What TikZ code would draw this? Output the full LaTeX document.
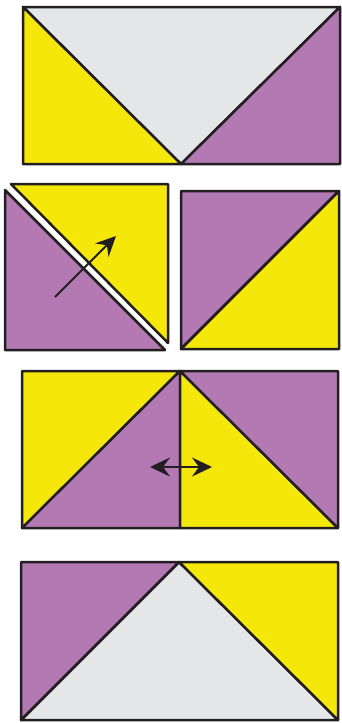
\documentclass[tikz,border=0pt]{standalone}
\usepackage{xcolor}
\usetikzlibrary{arrows.meta}
\definecolor{quiltGelb}{HTML}{F6E70A}
\definecolor{quiltLila}{HTML}{B279B3}
\definecolor{quiltGrau}{HTML}{E5E6E8}
\definecolor{quiltLinie}{HTML}{231F20}

\begin{document}
\begin{tikzpicture}[
  x=1pt, y=-1pt,
  patch/.style={draw=quiltLinie, line width=2.5pt, line join=round},
  gelb/.style={patch, fill=quiltGelb},
  lila/.style={patch, fill=quiltLila},
  grau/.style={patch, fill=quiltGrau},
  tip/.tip={Stealth[length=20pt, width=19pt, inset=7pt]},
  arrow/.style={-tip, draw=quiltLinie, line width=2pt},
  dblarrow/.style={tip-tip, draw=quiltLinie, line width=2pt},
]
\useasboundingbox (0,0) rectangle (341,723);

% --- Row 1: flying goose, grey on top --------------------------------
\draw[grau] (23,7) -- (340,7) -- (181,164) -- cycle;
\draw[gelb] (23,7) -- (181,164) -- (23,164) -- cycle;
\draw[lila] (340,7) -- (340,164) -- (181,164) -- cycle;

% --- Row 2: half-square triangles, cut apart and flipped ------------
\draw[gelb] (11,184) -- (168,184) -- (168,343) -- cycle;
\draw[lila] (5,190) -- (165,350) -- (5,350) -- cycle;
\coordinate (shiftA) at (55,297);
\coordinate (shiftB) at (116,236);
\draw[arrow] (shiftA) -- (shiftB);

\draw[lila] (181,191) -- (339,191) -- (181,349) -- cycle;
\draw[gelb] (339,191) -- (339,349) -- (181,349) -- cycle;

% --- Row 3: two squares side by side ---------------------------------
\draw[gelb] (22,371) -- (180,371) -- (22,528) -- cycle;
\draw[lila] (180,371) -- (180,528) -- (22,528) -- cycle;
\draw[gelb] (180,371) -- (338,528) -- (180,528) -- cycle;
\draw[lila] (180,371) -- (338,371) -- (338,528) -- cycle;
\coordinate (swapL) at (150,467);
\coordinate (swapR) at (212,467);
\draw[dblarrow] (swapL) -- (swapR);

% --- Row 4: flying goose, grey below ---------------------------------
\draw[grau] (21,720) -- (179,562) -- (338,720) -- cycle;
\draw[lila] (21,562) -- (179,562) -- (21,720) -- cycle;
\draw[gelb] (179,562) -- (338,562) -- (338,720) -- cycle;
\end{tikzpicture}
\end{document}
